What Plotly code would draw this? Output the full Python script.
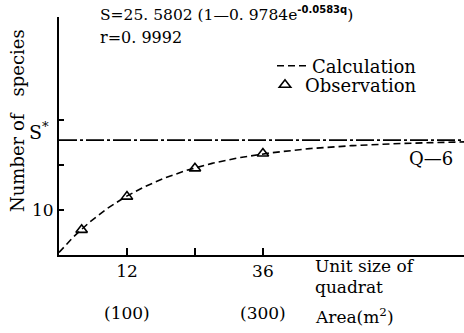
import numpy as np
import plotly.graph_objects as go

# Data
obs_q = [4, 12, 24, 36]
obs_s = [5.6, 13.0, 19.3, 22.6]
S_star = 25.5802
a, b = 0.9784, 0.0583
q_max = 71.5
x_tickvals = [12, 36]
x_ticktext = ["12", "36"]
x_minor_ticks = [24]
y_tickvals = [10]
y_ticktext = ["10"]
y_minor_ticks = [20, 30]
area_labels = ["(100)", "(300)"]
area_q = [12, 36]

q = np.linspace(0, q_max, 300)
s = S_star * (1 - a * np.exp(-b * q))

FONT = "DejaVu Serif"
W, H = 464, 333
L, R, T, B = 59, 0, 17, 78
pw, ph = W - L - R, H - T - B


def px(x):
    return (x - L) / pw


def py(y):
    return (H - B - y) / ph


fig = go.Figure()
fig.add_trace(go.Scatter(x=[0, q_max], y=[S_star, S_star], mode="lines",
                         line=dict(color="black", width=1.6, dash="18px,3px,3px,3px"),
                         showlegend=False, hoverinfo="skip"))
fig.add_trace(go.Scatter(x=q, y=s, mode="lines", name="Calculation", legend="legend",
                         line=dict(color="black", width=1.6, dash="7px,4px")))
fig.add_trace(go.Scatter(x=obs_q, y=obs_s, mode="markers", name="Observation", legend="legend2",
                         marker=dict(symbol="triangle-up-open", size=10, color="black",
                                     line=dict(width=1.6, color="black"))))
# invisible trace on overlay axes that carry the unlabeled ticks
fig.add_trace(go.Scatter(x=[0], y=[0], xaxis="x2", yaxis="y2", mode="markers",
                         marker=dict(opacity=0), showlegend=False, hoverinfo="skip"))

ann = []
def add(text, x, y, size=17, xanchor="center", angle=0):
    ann.append(dict(text=text, x=px(x), y=py(y), xref="paper", yref="paper",
                    showarrow=False, xanchor=xanchor, yanchor="middle",
                    textangle=angle, font=dict(family=FONT, size=size, color="black")))

add("S=25. 5802 (1—0. 9784e<sup><span style=\"font-size:10px;font-family:DejaVu Sans\">"
    "<b>-0.0583q</b></span></sup>)", 98, 14, size=15.5, xanchor="left")
add("r=0. 9992", 98, 37, size=16, xanchor="left")
add("Number of\u00a0\u00a0 species", 17, 121, size=18, angle=-90)
add("S<sup>*</sup>", 39, 131, size=19)
add("Q—6", 431, 158, size=18)
add("Unit size of", 313, 266, xanchor="left")
add("quadrat", 313, 287, xanchor="left")
add("Area(m<sup>2</sup>)", 313, 316, xanchor="left")
for lab, qv in zip(area_labels, area_q):
    ann.append(dict(text=lab, x=qv, y=py(313), xref="x", yref="paper", showarrow=False,
                    xanchor="center", yanchor="middle",
                    font=dict(family=FONT, size=17, color="black")))

legend_common = dict(xanchor="left", yanchor="middle", bgcolor="rgba(0,0,0,0)",
                     font=dict(family=FONT, size=18), itemwidth=30)

fig.update_layout(
    width=W, height=H, margin=dict(l=L, r=R, t=T, b=B),
    plot_bgcolor="white", paper_bgcolor="white",
    font=dict(family=FONT, size=17, color="black"),
    annotations=ann,
    legend=dict(x=px(272), y=py(66), **legend_common),
    legend2=dict(x=px(265), y=py(85), **legend_common),
    xaxis=dict(range=[0, q_max], showline=True, linewidth=2, linecolor="black",
               showgrid=False, zeroline=False, ticks="inside", ticklen=7, tickwidth=1.5,
               tickcolor="black", tickvals=x_tickvals, ticktext=x_ticktext,
               tickfont=dict(family=FONT, size=17)),
    yaxis=dict(range=[0, 53], showline=True, linewidth=2, linecolor="black",
               showgrid=False, zeroline=False, ticks="inside", ticklen=5, tickwidth=1.5,
               tickcolor="black", tickvals=y_tickvals, ticktext=y_ticktext,
               tickfont=dict(family=FONT, size=17)),
    xaxis2=dict(overlaying="x", matches="x", showline=False, showgrid=False, zeroline=False,
                ticks="inside", ticklen=7, tickwidth=1.5, tickcolor="black",
                tickvals=x_minor_ticks, showticklabels=False, side="bottom"),
    yaxis2=dict(overlaying="y", matches="y", showline=False, showgrid=False, zeroline=False,
                ticks="inside", ticklen=5, tickwidth=1.5, tickcolor="black",
                tickvals=y_minor_ticks, showticklabels=False, side="left"),
)

fig.write_html("out.html")
